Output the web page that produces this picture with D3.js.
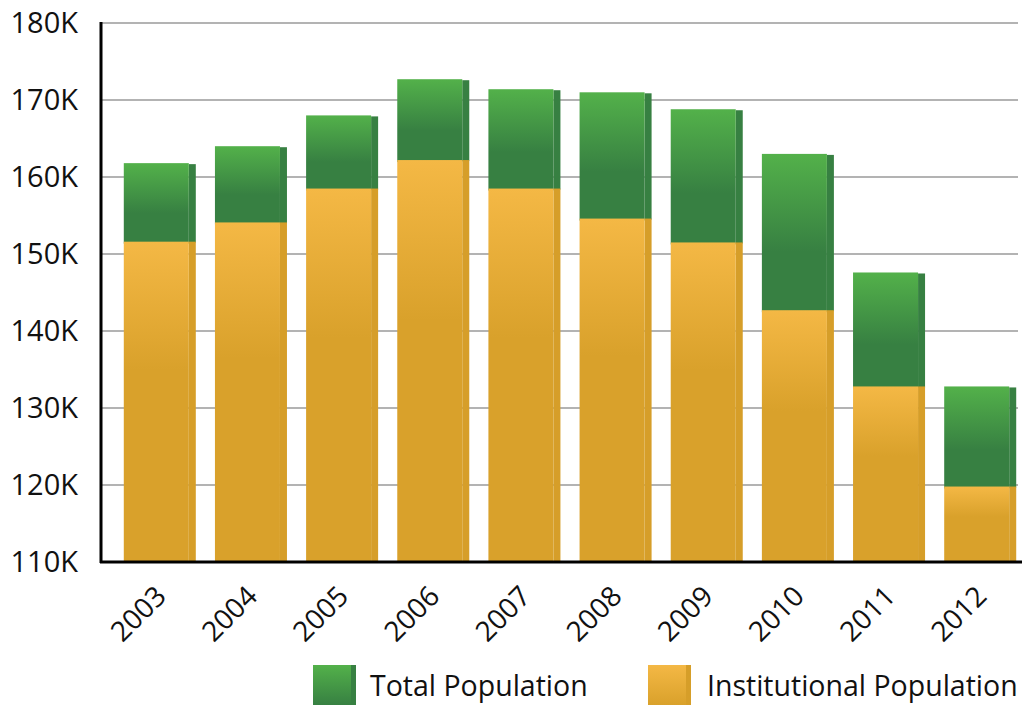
<!DOCTYPE html>
<html>
<head>
<meta charset="utf-8">
<script src="https://cdn.jsdelivr.net/npm/d3@7"></script>
<style>
  body { margin: 0; background: #fff; }
  svg text { font-family: "Open Sans", "Noto Sans", sans-serif; fill: #111; }
</style>
</head>
<body>
<svg id="chart" width="1026" height="707"></svg>
<script>
// data (thousands)
var years = ["2003", "2004", "2005", "2006", "2007", "2008", "2009", "2010", "2011", "2012"]
var totalPop = [161.8, 164.0, 168.0, 172.7, 171.4, 171.0, 168.8, 163.0, 147.6, 132.8]
var instPop = [151.6, 154.1, 158.5, 162.2, 158.5, 154.6, 151.5, 142.7, 132.8, 119.8]
var yTicks = [110, 120, 130, 140, 150, 160, 170, 180]
var seriesNames = ["Total Population", "Institutional Population"]

var svg = d3.select("#chart")

var x = d3.scaleBand().domain(years).range([101, 1039]).paddingInner(0.21).paddingOuter(0.25)
var y = d3.scaleLinear().domain([110, 180]).range([562, 23])

// gradients
var defs = svg.append("defs")
function grad(id, light, dark, stopAt) {
  var g = defs.append("linearGradient").attr("id", id)
    .attr("x1", 0).attr("y1", 0).attr("x2", 0).attr("y2", 1)
  g.append("stop").attr("offset", 0).attr("stop-color", light)
  g.append("stop").attr("offset", stopAt).attr("stop-color", dark)
  g.append("stop").attr("offset", 1).attr("stop-color", dark)
}
grad("gGreen", "#53b14a", "#378042", 0.62)
grad("gOrange", "#f4b845", "#d9a12b", 0.4)
grad("gGreenKey", "#53b14a", "#378042", 1)
grad("gOrangeKey", "#f4b845", "#d9a12b", 1)

// gridlines
svg.append("g").selectAll("line")
  .data(yTicks.slice(1))
  .enter().append("line")
  .attr("x1", 101).attr("x2", 1018)
  .attr("y1", d => y(d)).attr("y2", d => y(d))
  .attr("stroke", "#b3b3b3").attr("stroke-width", 2)

var side = 7

// total population (green, only the part above institutional shows)
var gTot = svg.append("g")
gTot.selectAll(".side").data(years).enter().append("rect")
  .attr("x", d => x(d) + x.bandwidth() - side)
  .attr("y", (d, i) => y(totalPop[i]) + 1)
  .attr("width", side)
  .attr("height", (d, i) => y(instPop[i]) - y(totalPop[i]))
  .attr("fill", "#378042")
gTot.selectAll(".face").data(years).enter().append("rect")
  .attr("x", d => x(d))
  .attr("y", (d, i) => y(totalPop[i]))
  .attr("width", x.bandwidth() - side)
  .attr("height", (d, i) => y(instPop[i]) - y(totalPop[i]) + 2)
  .attr("fill", "url(#gGreen)")

// institutional population (orange)
var gInst = svg.append("g")
gInst.selectAll(".side").data(years).enter().append("rect")
  .attr("x", d => x(d) + x.bandwidth() - side)
  .attr("y", (d, i) => y(instPop[i]))
  .attr("width", side)
  .attr("height", (d, i) => y(110) - y(instPop[i]))
  .attr("fill", "#d69e29")
gInst.selectAll(".face").data(years).enter().append("rect")
  .attr("x", d => x(d))
  .attr("y", (d, i) => y(instPop[i]))
  .attr("width", x.bandwidth() - side)
  .attr("height", (d, i) => y(110) - y(instPop[i]))
  .attr("fill", "url(#gOrange)")

// axes
var yAxis = svg.append("g").attr("transform", "translate(101,0)")
  .call(d3.axisLeft(y).tickValues(yTicks).tickSize(0).tickPadding(23).tickFormat(d => d + "K"))
yAxis.select(".domain").remove()
yAxis.selectAll("text").style("font-size", "29px").attr("fill", "#111")

svg.append("line").attr("x1", 101).attr("x2", 101).attr("y1", 22).attr("y2", 563)
  .attr("stroke", "#000").attr("stroke-width", 3)
svg.append("line").attr("x1", 100).attr("x2", 1022).attr("y1", 562).attr("y2", 562)
  .attr("stroke", "#000").attr("stroke-width", 3)

svg.append("g").selectAll("text").data(years).enter().append("text")
  .attr("transform", d => "translate(" + (x(d) + x.bandwidth() / 2 + 8) + ",598) rotate(-45)")
  .attr("text-anchor", "end")
  .style("font-size", "28px")
  .text(d => d)

// legend
var legend = [
  { name: seriesNames[0], sx: 313, tx: 370, fill: "url(#gGreenKey)", edge: "#378042" },
  { name: seriesNames[1], sx: 648, tx: 707, fill: "url(#gOrangeKey)", edge: "#d69e29" }
]
var lg = svg.append("g").selectAll("g").data(legend).enter().append("g")
lg.append("rect").attr("x", d => d.sx).attr("y", 665).attr("width", 43).attr("height", 40).attr("fill", d => d.edge)
lg.append("rect").attr("x", d => d.sx).attr("y", 665).attr("width", 38).attr("height", 40).attr("fill", d => d.fill)
lg.append("text").attr("x", d => d.tx).attr("y", 696).style("font-size", "28.5px").text(d => d.name)
</script>
</body>
</html>
